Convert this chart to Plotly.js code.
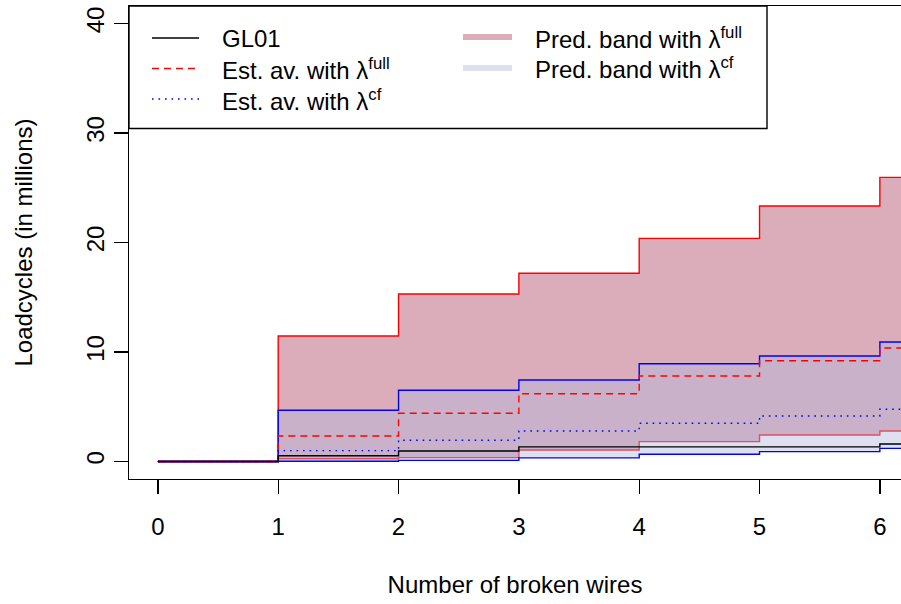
<!DOCTYPE html>
<html>
<head>
<meta charset="utf-8">
<script src="https://cdn.plot.ly/plotly-3.0.1.min.js"></script>
<style>html,body{margin:0;padding:0;background:#fff;}#chart{width:901px;height:604px;}</style>
</head>
<body>
<div id="chart"></div>
<script>
// ---- data ----
var brokenWires = [0, 1, 2, 3, 4, 5, 6, 7];
var gl01        = [0, 0.53, 0.96, 1.33, 1.33, 1.33, 1.60, 1.60];
var avgFull     = [0, 2.33, 4.40, 6.19, 7.81, 9.20, 10.37, 10.37];
var avgCf       = [0, 0.99, 1.94, 2.79, 3.49, 4.16, 4.77, 4.77];
var bandFullLow = [0, 0.25, 0.35, 1.05, 1.81, 2.42, 2.79, 2.79];
var bandFullUp  = [0, 11.46, 15.30, 17.19, 20.38, 23.33, 25.95, 25.95];
var bandCfLow   = [0, 0.02, 0.10, 0.33, 0.66, 0.90, 1.20, 1.20];
var bandCfUp    = [0, 4.68, 6.50, 7.44, 8.93, 9.63, 10.91, 10.91];
var xTicks = [0, 1, 2, 3, 4, 5, 6];
var yTicks = [0, 10, 20, 30, 40];

var FONT = 'Liberation Sans, Arial, Helvetica, sans-serif';
var LW = 1.4;
var fullFill = 'rgb(219,172,185)';
var cfFill = 'rgba(178,185,221,0.44)';

function step(y, color, extra) {
  var t = {x: brokenWires, y: y, type: 'scatter', mode: 'lines',
    line: {shape: 'hv', color: color, width: LW}, hoverinfo: 'skip', showlegend: false};
  for (var k in extra) t[k] = extra[k];
  if (extra && extra.dash) { t.line.dash = extra.dash; delete t.dash; }
  return t;
}

var traces = [
  step(bandFullLow, 'red', {}),
  step(bandFullUp, 'red', {fill: 'tonexty', fillcolor: fullFill}),
  step(bandCfLow, 'blue', {}),
  step(bandCfUp, 'blue', {fill: 'tonexty', fillcolor: cfFill}),
  step(avgFull, 'red', {dash: '7px,5px'}),
  step(avgCf, 'blue', {dash: '1.6px,4.9px'}),
  step(gl01, 'black', {})
];

// plot area in pixels
var L = 129, R = 901, T = 6, B = 479;
function px(x) { return (x - L) / (R - L); }
function py(y) { return (B - y) / (B - T); }

var shapes = [
  {type: 'rect', xref: 'paper', yref: 'paper', x0: px(129), x1: px(767), y0: py(6), y1: py(128.5),
   line: {color: 'black', width: LW}, fillcolor: 'white', layer: 'above'}
];
function legLine(x0, x1, y, color, width, dash) {
  shapes.push({type: 'line', xref: 'paper', yref: 'paper', x0: px(x0), x1: px(x1), y0: py(y), y1: py(y),
    line: {color: color, width: width, dash: dash || 'solid'}, layer: 'above'});
}
legLine(152, 199, 38, 'black', LW);
legLine(152, 199, 68.5, 'red', LW, '7px,5px');
legLine(152, 199, 99, 'blue', LW, '1.6px,4.9px');
legLine(463, 512, 37, 'rgb(219,172,185)', 6);
legLine(463, 512, 68, 'rgb(221,224,240)', 6);

var annotations = [];
function legText(x, y, txt) {
  annotations.push({xref: 'paper', yref: 'paper', x: px(x), y: py(y), xanchor: 'left', yanchor: 'middle',
    text: txt, showarrow: false, font: {family: FONT, size: 24, color: 'black'}});
}
legText(220, 38.5, 'GL01');
legText(220, 69.5, 'Est. av. with \u03bb<sup>full</sup>');
legText(220, 99.5, 'Est. av. with \u03bb<sup>cf</sup>');
legText(533, 38, 'Pred. band with \u03bb<sup>full</sup>');
legText(533, 68, 'Pred. band with \u03bb<sup>cf</sup>');

var layout = {
  width: 901, height: 604,
  margin: {l: L, r: 901 - R, t: T, b: 604 - B, pad: 0},
  paper_bgcolor: 'white', plot_bgcolor: 'white',
  font: {family: FONT, size: 24, color: 'black'},
  showlegend: false,
  xaxis: {
    range: [-0.24, -0.24 + (R - L) / 120.33],
    tickvals: xTicks, ticktext: xTicks.map(String),
    ticks: 'outside', ticklen: 14, tickwidth: LW, tickcolor: 'black',
    ticklabelstandoff: 12,
    showline: true, mirror: true, linecolor: 'black', linewidth: LW,
    showgrid: false, zeroline: false, automargin: false,
    tickfont: {family: FONT, size: 24, color: 'black'},
    title: {text: 'Number of broken wires', font: {family: FONT, size: 24, color: 'black'}, standoff: 37}
  },
  yaxis: {
    range: [-1.6, 41.6],
    tickvals: yTicks, ticktext: yTicks.map(String), tickangle: -90,
    ticks: 'outside', ticklen: 14, tickwidth: LW, tickcolor: 'black',
    showline: true, mirror: false, linecolor: 'black', linewidth: LW,
    showgrid: false, zeroline: false, automargin: false,
    tickfont: {family: FONT, size: 24, color: 'black'},
    title: {text: 'Loadcycles (in millions)', font: {family: FONT, size: 24, color: 'black'}, standoff: 42}
  },
  shapes: shapes,
  annotations: annotations
};

Plotly.newPlot('chart', traces, layout, {displayModeBar: false, staticPlot: true});
</script>
</body>
</html>
